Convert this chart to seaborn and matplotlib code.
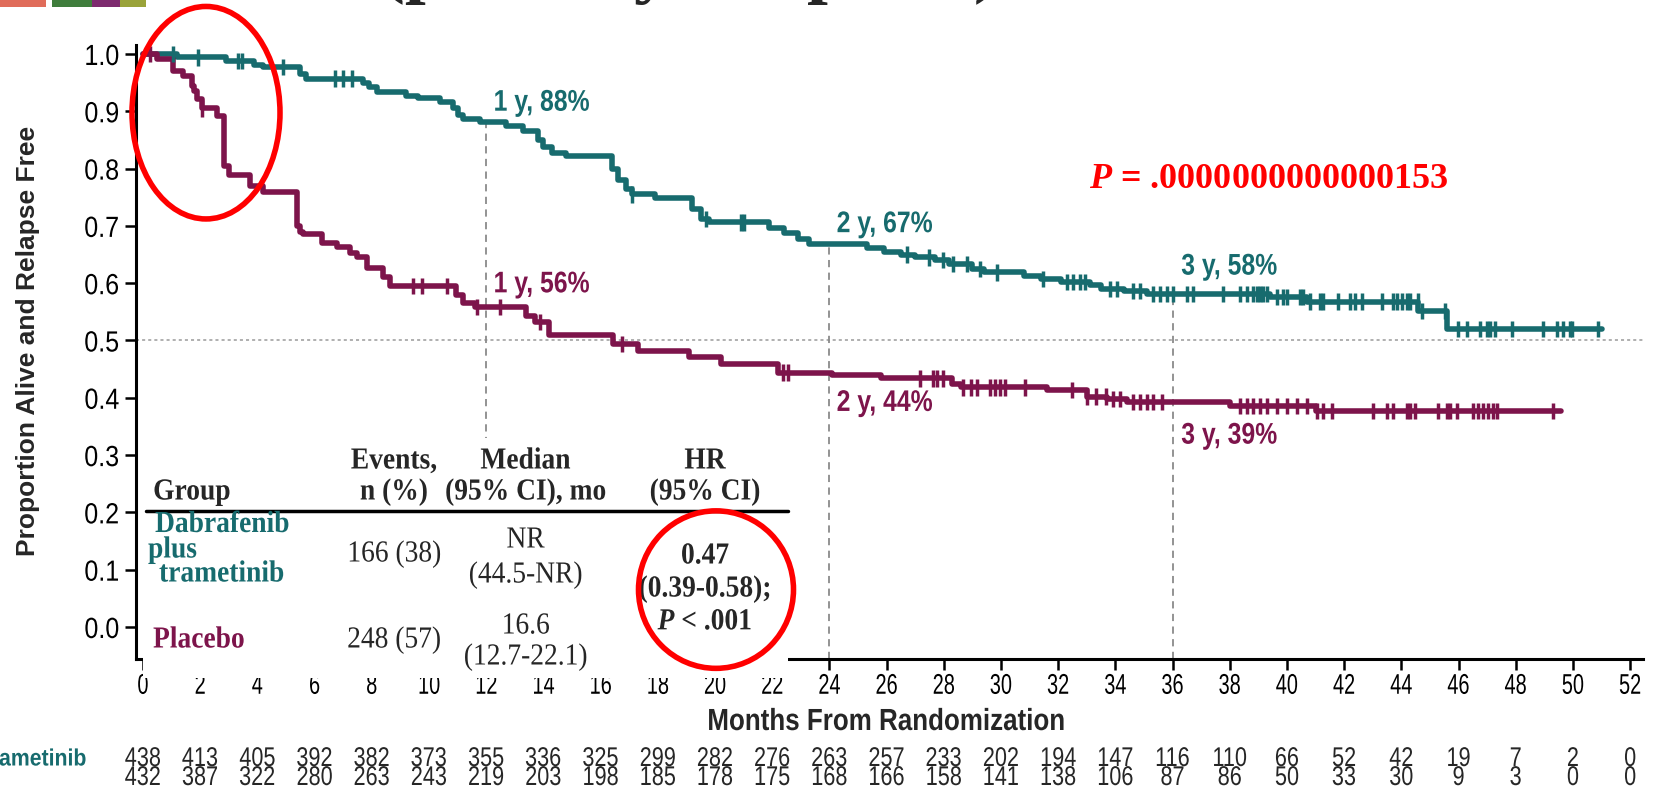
import numpy as np
import pandas as pd
import matplotlib
matplotlib.use("Agg")
import matplotlib.pyplot as plt
import matplotlib.transforms as mtransforms
from matplotlib.path import Path
from matplotlib.patheffects import AbstractPathEffect
from matplotlib.patches import Rectangle, Ellipse
from matplotlib.lines import Line2D
import seaborn as sns

# ---------------------------------------------------------------- data
arms = ["Dabrafenib plus trametinib", "Placebo"]
arm_colors = ["#176b6e", "#7d144b"]

# Kaplan-Meier steps: month at which the estimate changes, estimate after it
dt_month = [0, 1.2, 2.9, 3.9, 4.2, 5.5, 5.7, 7.7, 7.9, 8.2, 9.2, 9.6, 10.4, 10.85,
            11.0, 11.2, 11.8, 12.7, 13.3, 13.8, 14.0, 14.3, 14.8, 16.4, 16.6, 16.9,
            17.1, 17.9, 19.2, 19.5, 19.8, 21.9, 22.4, 22.9, 23.3, 25.3, 25.9, 26.5,
            27.0, 27.7, 28.2, 29.0, 29.4, 30.8, 31.4, 32.1, 33.1, 33.5, 34.3, 35.1,
            39.4, 40.7, 44.6, 45.6, 51.0]
dt_surv = [1.0, 0.994, 0.988, 0.981, 0.977, 0.965, 0.957, 0.950, 0.942, 0.933, 0.927,
           0.923, 0.917, 0.905, 0.893, 0.887, 0.881, 0.874, 0.866, 0.850, 0.838, 0.828,
           0.822, 0.800, 0.780, 0.764, 0.755, 0.748, 0.730, 0.712, 0.706, 0.697, 0.688,
           0.677, 0.668, 0.661, 0.655, 0.650, 0.645, 0.640, 0.633, 0.625, 0.619, 0.613,
           0.607, 0.602, 0.596, 0.590, 0.586, 0.581, 0.576, 0.568, 0.551, 0.520, 0.520]
dt_censor = [1.06, 1.93, 3.33, 3.45, 4.9, 6.71, 7.0, 7.3, 17.1, 19.7, 20.9, 21.0,
             26.7, 27.5, 27.98, 28.33, 28.8, 29.27, 29.85, 31.48, 32.3, 32.53, 32.77,
             32.94, 33.81, 34.05, 34.63, 34.86, 35.33, 35.56, 35.79, 36.03, 36.49,
             36.73, 37.77, 38.36, 38.59, 38.82, 38.94, 39.06, 39.17, 39.29, 39.64,
             39.87, 39.99, 40.45, 40.57, 40.8, 41.15, 41.27, 41.79, 42.2, 42.37,
             42.61, 43.31, 43.72, 43.84, 44.01, 44.19, 44.3, 44.59, 44.71, 45.52,
             45.99, 46.28, 46.75, 46.98, 47.1, 47.27, 47.86, 48.96, 49.43, 49.66,
             49.9, 49.95, 50.89]

pbo_month = [0, 0.5, 1.06, 1.4, 1.7, 1.8, 1.9, 2.05, 2.6, 2.85, 3.0, 3.75, 4.2, 5.4,
             5.5, 5.6, 6.25, 6.8, 7.25, 7.5, 7.85, 8.4, 8.65, 10.95, 11.2, 11.6, 13.4,
             13.7, 14.2, 16.45, 17.3, 19.1, 20.2, 22.2, 24.1, 25.8, 28.3, 28.6, 31.6,
             33.0, 33.7, 34.4, 38.0, 41.0, 49.6]
pbo_surv = [1.0, 0.991, 0.971, 0.962, 0.945, 0.935, 0.922, 0.905, 0.892, 0.805, 0.789,
            0.770, 0.760, 0.700, 0.689, 0.686, 0.671, 0.663, 0.652, 0.645, 0.626, 0.610,
            0.595, 0.580, 0.565, 0.558, 0.542, 0.532, 0.510, 0.494, 0.481, 0.471, 0.459,
            0.444, 0.439, 0.434, 0.424, 0.418, 0.414, 0.402, 0.398, 0.393, 0.386, 0.377,
            0.377]
pbo_censor = [0.24, 2.05, 9.45, 9.74, 10.62, 11.67, 12.48, 13.88, 16.74, 22.39, 22.56,
              27.17, 27.63, 27.75, 27.98, 28.68, 28.97, 29.15, 29.62, 29.79, 29.97,
              30.14, 30.84, 32.47, 33.0, 33.34, 33.69, 33.93, 34.16, 34.63, 34.86,
              35.09, 35.33, 35.62, 38.36, 38.59, 38.82, 39.06, 39.29, 39.64, 39.99,
              40.34, 40.69, 41.04, 41.27, 41.56, 43.02, 43.49, 43.72, 44.19, 44.3,
              44.48, 45.29, 45.58, 45.7, 45.93, 46.52, 46.69, 46.87, 47.04, 47.22,
              47.34, 49.32]

landmark_months = [12, 24, 36]
landmark_text_dt = ["1 y, 88%", "2 y, 67%", "3 y, 58%"]
landmark_text_pbo = ["1 y, 56%", "2 y, 44%", "3 y, 39%"]

x_ticks = list(range(0, 53, 2))
y_ticks = [0.0, 0.1, 0.2, 0.3, 0.4, 0.5, 0.6, 0.7, 0.8, 0.9, 1.0]
risk_dt = [438, 413, 405, 392, 382, 373, 355, 336, 325, 299, 282, 276, 263, 257,
           233, 202, 194, 147, 116, 110, 66, 52, 42, 19, 7, 2, 0]
risk_pbo = [432, 387, 322, 280, 263, 243, 219, 203, 198, 185, 178, 175, 168, 166,
            158, 141, 138, 106, 87, 86, 50, 33, 30, 9, 3, 0, 0]

table_header = [["Events,", "n (%)"], ["Median", "(95% CI), mo"], ["HR", "(95% CI)"]]
table_events = ["166 (38)", "248 (57)"]
table_median = [["NR", "(44.5-NR)"], ["16.6", "(12.7-22.1)"]]
table_hr = ["0.47", "(0.39-0.58);", r"$\mathit{P}$ < .001"]
logrank_text = r"$\mathit{P}$ = .0000000000000153"
heading = "(primary endpoint)"


# ---------------------------------------------------------------- style
class Condense(AbstractPathEffect):
    """Squeeze glyph outlines horizontally, like a narrow typeface."""

    def __init__(self, sx=0.82, anchor="center"):
        super().__init__()
        self.sx = sx
        self.anchor = anchor

    def draw_path(self, renderer, gc, tpath, affine, rgbFace=None):
        v = tpath.vertices
        if tpath.codes is not None:
            v = v[tpath.codes != Path.CLOSEPOLY]
        if len(v):
            lo, hi = v[:, 0].min(), v[:, 0].max()
            ref = {"left": lo, "right": hi}.get(self.anchor, (lo + hi) / 2)
        else:
            ref = 0.0
        squeeze = mtransforms.Affine2D().translate(-ref, 0).scale(self.sx, 1).translate(ref, 0)
        renderer.draw_path(gc, tpath, squeeze + affine, rgbFace)


sns.set_style("ticks")
SANS = "Liberation Sans"
SERIF = "Liberation Serif"
plt.rcParams["font.family"] = [SANS, "DejaVu Sans"]
plt.rcParams["mathtext.fontset"] = "custom"
plt.rcParams["mathtext.it"] = "Liberation Serif:italic:bold"
plt.rcParams["mathtext.rm"] = "Liberation Serif:bold"

W, H = 1658, 803
fig = plt.figure(figsize=(W / 100, H / 100), dpi=100)


def fx(px):
    return px / W


def fy(py):
    return 1 - py / H


ax = fig.add_axes([fx(135.8), fy(659.5), fx(1643) - fx(135.8), fy(46.4) - fy(659.5)])
ax.set_xlim(-0.25, 52.45)
ax.set_ylim(-0.055, 1.015)


def km_value(months, surv, t):
    idx = np.searchsorted(months, t, side="right") - 1
    return np.asarray(surv)[idx]


curves = pd.concat([
    pd.DataFrame({"month": dt_month, "surv": dt_surv, "arm": arms[0]}),
    pd.DataFrame({"month": pbo_month, "surv": pbo_surv, "arm": arms[1]}),
])
censors = pd.concat([
    pd.DataFrame({"month": dt_censor, "surv": km_value(dt_month, dt_surv, dt_censor), "arm": arms[0]}),
    pd.DataFrame({"month": pbo_censor, "surv": km_value(pbo_month, pbo_surv, pbo_censor), "arm": arms[1]}),
])
palette = dict(zip(arms, arm_colors))

# reference lines
ax.axhline(0.5, color="#9a9a9a", lw=1.1, ls=(0, (2, 2)), zorder=1)
for m in landmark_months:
    top = km_value(dt_month, dt_surv, m)
    ax.plot([m, m], [-0.055, top], color="#8a8a8a", lw=1.3, ls=(0, (4, 3)), zorder=1)

sns.lineplot(data=curves, x="month", y="surv", hue="arm", palette=palette,
             estimator=None, sort=False, drawstyle="steps-post", lw=4.0,
             legend=False, ax=ax, zorder=3)
sns.scatterplot(data=censors, x="month", y="surv", hue="arm", palette=palette,
                marker="|", s=140, linewidth=2.5, legend=False, ax=ax, zorder=4)

# landmark annotations
dt_offsets = [(0.25, 0.034), (0.25, 0.035), (0.3, 0.048)]
pbo_offsets = [(0.25, 0.040), (0.25, -0.053), (0.3, -0.059)]
for m, txt, (dx, dy) in zip(landmark_months, landmark_text_dt, dt_offsets):
    ax.text(m + dx, km_value(dt_month, dt_surv, m) + dy, txt, color=arm_colors[0],
            fontsize=21.5, fontweight="bold", ha="left", va="center",
            path_effects=[Condense(0.83, "left")])
for m, txt, (dx, dy) in zip(landmark_months, landmark_text_pbo, pbo_offsets):
    ax.text(m + dx, km_value(pbo_month, pbo_surv, m) + dy, txt, color=arm_colors[1],
            fontsize=21.5, fontweight="bold", ha="left", va="center",
            path_effects=[Condense(0.83, "left")])

# axes
ax.set_xticks(x_ticks)
ax.set_yticks(y_ticks)
ax.set_yticklabels([f"{v:.1f}" for v in y_ticks])
ax.tick_params(axis="x", labelsize=20.5, length=8, width=1.8, pad=3, colors="black")
ax.tick_params(axis="y", labelsize=21, length=8, width=1.8, pad=4, colors="black")
for lab in ax.get_xticklabels():
    lab.set_path_effects([Condense(0.7)])
for lab in ax.get_yticklabels():
    lab.set_path_effects([Condense(0.86, "right")])
for s in ["left", "bottom"]:
    ax.spines[s].set_linewidth(2.2)
    ax.spines[s].set_color("black")
sns.despine(ax=ax)
ax.set_xlabel("")
ax.set_ylabel("")
fig.text(fx(886), fy(723), "Months From Randomization", fontsize=22, fontweight="bold",
         ha="center", va="center", path_effects=[Condense(0.85)])
fig.text(fx(28.5), fy(341), "Proportion Alive and Relapse Free", fontsize=19,
         fontweight="bold", rotation=90, ha="center", va="center")

# log-rank p value
fig.text(fx(1089), fy(180), logrank_text, fontsize=26, color="red", family=SERIF,
         fontweight="bold", ha="left", va="center")

# numbers at risk
risk_tr = mtransforms.blended_transform_factory(ax.transData, fig.transFigure)
for m, a, b in zip(x_ticks, risk_dt, risk_pbo):
    ax.text(m, fy(760), str(a), transform=risk_tr, fontsize=19.5, ha="center",
            va="center", clip_on=False, path_effects=[Condense(0.8)])
    ax.text(m, fy(779), str(b), transform=risk_tr, fontsize=19.5, ha="center",
            va="center", clip_on=False, path_effects=[Condense(0.8)])
fig.text(fx(87), fy(760), arms[0], color=arm_colors[0], fontsize=17,
         fontweight="bold", ha="right", va="center", path_effects=[Condense(0.9, "right")])

# summary table on a white panel
fig.add_artist(Rectangle((fx(143), fy(679)), fx(788) - fx(143), fy(439) - fy(679),
                         transform=fig.transFigure, facecolor="white", edgecolor="none",
                         zorder=5))
fig.add_artist(Line2D([fx(146), fx(788)], [fy(512), fy(512)], transform=fig.transFigure,
                      color="black", lw=2.5, zorder=6))
tk = dict(family=SERIF, fontsize=22, zorder=7, va="center")
fig.text(fx(153), fy(493), "Group", fontweight="bold", ha="left",
         path_effects=[Condense(0.9, "left")], **tk)
for cx, (l1, l2) in zip([394, 525.5, 705], table_header):
    fig.text(fx(cx), fy(462), l1, fontweight="bold", ha="center",
             path_effects=[Condense(0.9)], **tk)
    fig.text(fx(cx), fy(493), l2, fontweight="bold", ha="center",
             path_effects=[Condense(0.9)], **tk)
for (px, py), word in zip([(155, 525.5), (148, 551), (159, 575)],
                          ["Dabrafenib", "plus", "trametinib"]):
    fig.text(fx(px), fy(py), word, color=arm_colors[0], fontweight="bold", ha="left",
             path_effects=[Condense(0.9, "left")], **tk)
fig.text(fx(153), fy(641), arms[1], color=arm_colors[1], fontweight="bold", ha="left",
         path_effects=[Condense(0.9, "left")], **tk)
cells = [(394, 555, table_events[0]), (394, 641, table_events[1]),
         (525.5, 541, table_median[0][0]), (525.5, 576, table_median[0][1]),
         (525.5, 627, table_median[1][0]), (525.5, 658, table_median[1][1])]
for px, py, txt in cells:
    fig.text(fx(px), fy(py), txt, ha="center", path_effects=[Condense(0.9)], **tk)
for py, line in zip([557, 590, 623], table_hr):
    fig.text(fx(705), fy(py), line, fontweight="bold", ha="center",
             path_effects=[Condense(0.9)], **tk)

# highlight rings
for (cx, cy, w, h) in [(206, 113.7, 148, 212.5), (716, 590.6, 155, 157.5)]:
    fig.add_artist(Ellipse((fx(cx), fy(cy)), w / W, h / H, transform=fig.transFigure,
                           facecolor="none", edgecolor="#ff0000", lw=4, zorder=8))

# slide heading (only its descenders fall inside the canvas) and logo strip
fig.text(fx(380), fy(-11), heading, family=SERIF, fontsize=54,
         fontweight="bold", ha="left", va="baseline")
for x0, x1, c in [(0, 46, "#e06c5a"), (52, 92, "#3f7d3c"), (92, 120, "#7d2a6e"),
                  (120, 146, "#9aa33a")]:
    fig.add_artist(Rectangle((fx(x0), fy(8)), fx(x1) - fx(x0), fy(0) - fy(8),
                             transform=fig.transFigure, facecolor=c, edgecolor="none"))

fig.savefig("out.png", dpi=100)
